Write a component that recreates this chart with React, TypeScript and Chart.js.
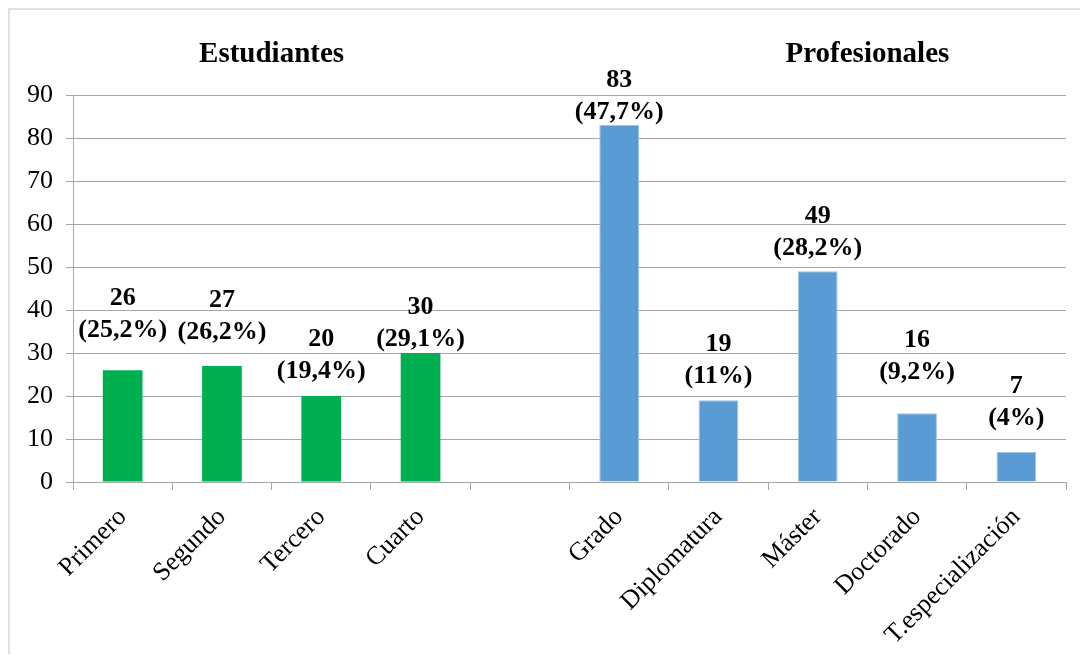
import React, { useEffect, useRef } from "react";
import { Chart, registerables } from "chart.js";

Chart.register(...registerables);

const categories = [
  "Primero",
  "Segundo",
  "Tercero",
  "Cuarto",
  "",
  "Grado",
  "Diplomatura",
  "Máster",
  "Doctorado",
  "T.especialización",
];
const studentValues = [26, 27, 20, 30, null, null, null, null, null, null];
const professionalValues = [null, null, null, null, null, 83, 19, 49, 16, 7];
const pctLabels = ["25,2%", "26,2%", "19,4%", "29,1%", "", "47,7%", "11%", "28,2%", "9,2%", "4%"];
const yTicks = [0, 10, 20, 30, 40, 50, 60, 70, 80, 90];
const groupTitles = ["Estudiantes", "Profesionales"];
const groupTitleAt = [1.5, 7.5];
// style: how far each label's lower line sits above its bar (px)
const labelLift = [40, 34, 25, 14, 0, 13, 24, 23, 41, 34];

const FONT = "'Liberation Serif', 'Times New Roman', serif";
const GRID = "#a6a6a6";

export default function App() {
  const ref = useRef<HTMLCanvasElement | null>(null);

  useEffect(() => {
    document.body.style.overflow = "hidden";
    const canvas = ref.current;
    if (!canvas) return;

    const labelPlugin = {
      id: "labelsAndTitles",
      afterDatasetsDraw(chart: any) {
        const ctx = chart.ctx;
        const xs = chart.scales.x;
        ctx.save();
        ctx.fillStyle = "#000";
        ctx.textAlign = "center";
        // group titles
        ctx.font = `bold 29px ${FONT}`;
        ctx.textBaseline = "alphabetic";
        groupTitles.forEach((t, i) => {
          ctx.fillText(t, xs.getPixelForValue(groupTitleAt[i]), chart.chartArea.top - 33);
        });
        // value labels
        ctx.font = `bold 26px ${FONT}`;
        ctx.textBaseline = "middle";
        chart.data.datasets.forEach((ds: any, di: number) => {
          const meta = chart.getDatasetMeta(di);
          meta.data.forEach((bar: any, i: number) => {
            const v = ds.data[i];
            if (v === null || v === undefined) return;
            const y2 = bar.y - labelLift[i];
            ctx.fillText(String(v), bar.x, y2 - 32);
            ctx.fillText(`(${pctLabels[i]})`, bar.x, y2);
          });
        });
        ctx.restore();
      },
    };

    const chart = new Chart(canvas, {
      type: "bar",
      data: {
        labels: categories,
        datasets: [
          {
            label: "Estudiantes",
            data: studentValues,
            backgroundColor: "#00B050",
            categoryPercentage: 1,
            barPercentage: 0.4,
            skipNull: true,
          } as any,
          {
            label: "Profesionales",
            data: professionalValues,
            backgroundColor: "#5B9BD5",
            borderColor: "#9DC3E6",
            borderWidth: 1,
            categoryPercentage: 1,
            barPercentage: 0.4,
            skipNull: true,
          } as any,
        ],
      },
      options: {
        animation: false,
        responsive: false,
        maintainAspectRatio: false,
        layout: { padding: { left: 0, right: 14, top: 85, bottom: 0 } },
        plugins: {
          legend: { display: false },
          tooltip: { enabled: false },
          title: { display: false },
        },
        scales: {
          x: {
            type: "category",
            offset: true,
            grid: {
              display: true,
              drawOnChartArea: false,
              drawTicks: true,
              offset: true,
              tickLength: 8,
              color: GRID,
              lineWidth: 1,
            },
            border: { display: true, color: GRID },
            ticks: {
              color: "#000",
              font: { family: FONT, size: 26 },
              maxRotation: 45,
              minRotation: 45,
              autoSkip: false,
              padding: 12,
            },
            afterFit(scale: any) {
              scale.height = 172;
            },
          },
          y: {
            min: 0,
            max: 90,
            afterBuildTicks(scale: any) {
              scale.ticks = yTicks.map((v) => ({ value: v }));
            },
            grid: {
              color: GRID,
              lineWidth: 1,
              tickLength: 7,
              drawTicks: true,
            },
            border: { display: true, color: GRID },
            ticks: {
              color: "#000",
              font: { family: FONT, size: 26 },
              padding: 13,
            },
            afterFit(scale: any) {
              scale.width = 63;
            },
          },
        },
      },
      plugins: [labelPlugin],
    } as any);

    return () => chart.destroy();
  }, []);

  return (
    <div
      style={{
        width: 1072,
        height: 646,
        boxSizing: "border-box",
        borderTop: "2px solid #e0e0e0",
        borderLeft: "2px solid #e0e0e0",
        background: "#fff",
        overflow: "hidden",
      }}
    >
      <canvas ref={ref} width={1070} height={644} style={{ display: "block" }} />
    </div>
  );
}
